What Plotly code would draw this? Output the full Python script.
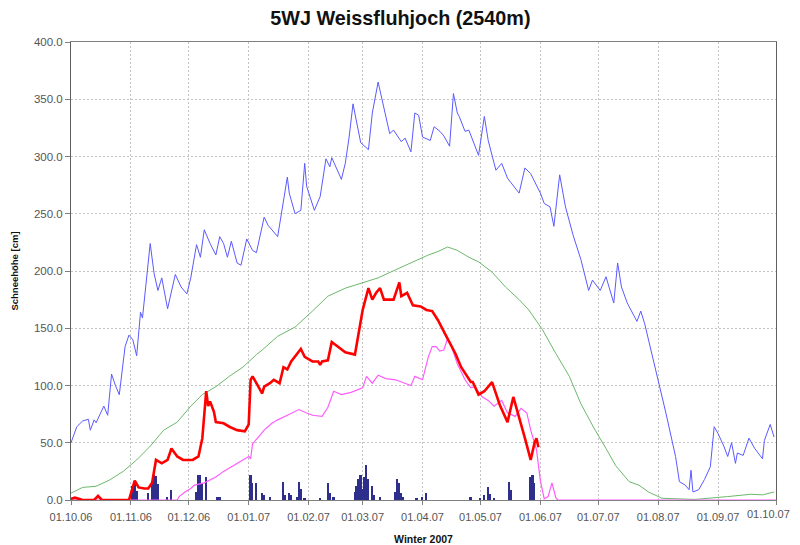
import pandas as pd
import plotly.graph_objects as go

START = "2006-10-01"

# Day offsets from 01.10.06 and snow depth values [cm]
hs_days = [0, 3, 6, 9, 10, 12, 13, 17, 19, 21, 23, 25, 28, 30, 32, 34, 36, 37, 41, 43, 45, 47, 50, 54, 57, 60,
           62, 65, 67, 69, 72, 75, 77, 79, 81, 83, 86, 88, 91, 94, 96, 100, 102, 107, 112, 113, 116, 119, 121,
           122, 126, 129, 132, 134, 135, 140, 142, 144, 146, 150, 154, 156, 159, 162, 165, 167, 171, 173, 176,
           178, 180, 182, 186, 188, 191, 193, 196, 198, 200, 201, 204, 206, 211, 214, 216, 220, 223, 226, 232,
           235, 238, 243, 245, 248, 250, 253, 256, 260, 264, 268, 270, 274, 277, 281, 283, 285, 288, 293, 295,
           297, 304, 308, 313, 315, 318, 320, 321, 322, 325, 328, 331, 333, 335, 338, 340, 342, 344, 345, 348,
           351, 354, 358, 359, 362, 364]
hs_vals = [50, 64, 69, 70.5, 61, 70, 67.5, 82, 74, 110, 100, 92, 134, 144, 140, 126, 164, 159, 224, 198, 183, 194,
           167, 197, 186, 180, 194, 223, 212, 236, 224, 214, 230, 224, 212, 226, 207, 205, 228, 218, 216, 247, 240,
           230, 282, 268, 250, 253, 294, 274, 253, 265, 298, 291, 299, 280, 294, 317, 346, 312, 306, 338, 365,
           341, 320, 323, 313, 316, 304, 338, 336, 317, 314, 326, 322, 318, 309, 355, 338, 335, 322, 323, 301,
           335, 314, 288, 294, 281, 268, 290, 285, 268, 259, 256, 239, 284, 256, 231, 210, 183, 192, 183, 195,
           172, 207, 186, 172, 156, 165, 154, 105, 76, 38, 16, 13, 9, 26, 7, 9, 18, 29, 64, 58, 47, 38, 50, 32,
           41, 39, 54, 45, 36, 52, 66, 55]

red_days = [0, 2, 4, 6, 12, 14, 16, 30, 33, 35, 38, 40, 42, 44, 47, 50, 52, 55, 58, 63, 66, 68, 70, 71, 72, 74,
            75, 79, 82, 86, 90, 92, 93, 94, 96, 99, 100, 103, 105, 108, 110, 112, 114, 117, 119, 121, 125, 128,
            129, 130, 133, 135, 138, 142, 147, 149, 150, 151, 154, 156, 158, 160, 162, 167, 170, 171, 174, 177,
            181, 184, 187, 190, 194, 199, 202, 207, 208, 211, 214, 218, 222, 226, 229, 232, 235, 238, 240, 241,
            242]
red_vals = [1, 2, 1, 0, 0, 3.5, 0, 0, 17, 11, 10, 10, 15, 35, 32, 35, 45, 38, 35, 35, 38, 54, 95, 82, 86, 77, 68,
            67, 64, 61, 60, 66, 105, 108, 102, 93, 99, 102, 105, 102, 116, 114, 121, 127, 132, 125, 121, 121, 118,
            121, 122, 138, 134, 129, 127, 148, 158, 166, 185, 175, 181, 185, 175, 175, 190, 178, 181, 170, 169,
            166, 165, 157, 144, 128, 116, 103, 103, 92, 95, 103, 83, 68, 90, 73, 54, 35, 50, 54, 46]

mag_days = [0, 55, 56, 59, 62, 64, 69, 72, 75, 79, 82, 86, 89, 92, 93, 94, 97, 100, 104, 107, 112, 118, 122, 125,
            130, 133, 136, 140, 145, 151, 153, 156, 159, 163, 168, 176, 178, 182, 185, 187, 189, 191, 193, 195,
            197, 200, 204, 207, 209, 213, 216, 219, 223, 226, 230, 233, 236, 238, 241, 243, 245, 247, 249, 251,
            252, 365]
mag_vals = [0, 0, 3, 7, 10, 13, 15, 17.5, 20, 25, 28, 32, 35, 38, 36, 49, 55, 61, 67, 70, 74, 79, 76, 74, 73, 81,
            95, 92, 94, 98, 108, 102, 109, 106, 105, 100, 108, 105, 125, 134, 134, 130, 131, 141, 134, 119, 105,
            98, 99, 90, 87, 82, 87, 76, 73, 80, 76, 61, 44, 17, 1, 3, 15, 2, 0, 0]

grn_days = [0, 6, 13, 20, 27, 34, 41, 48, 55, 62, 68, 75, 82, 89, 96, 99, 107, 116, 125, 133, 142, 150, 159, 168,
            176, 185, 190, 195, 200, 206, 211, 218, 225, 232, 237, 244, 251, 258, 264, 271, 277, 282, 289, 294,
            299, 306, 323, 332, 340, 352, 358, 364]
grn_vals = [6, 11, 12, 17.5, 25, 35, 47, 61, 68, 82, 92, 99, 108, 116, 127, 131, 143, 151, 165, 178, 185, 189,
            194, 201, 207, 214, 217, 221, 218, 212, 208, 199, 186, 175, 166, 149, 128, 108, 84, 62, 45, 30, 16,
            13, 7, 1.5, 0.5, 1.5, 3, 5, 4.5, 7]

hn_days = [32, 33, 34, 40, 42, 43, 44, 45, 50, 52, 65, 66, 67, 68, 70, 76, 77, 93, 94, 96, 99, 100, 103, 110, 111,
           113, 114, 117, 118, 119, 121, 129, 133, 134, 136, 147, 148, 149, 150, 151, 152, 153, 154, 156, 157,
           160, 168, 169, 170, 171, 172, 179, 182, 184, 207, 212, 214, 216, 217, 219, 227, 228, 238, 239, 240]
hn_vals = [12, 16, 8, 6, 15, 22, 21, 14, 3, 9, 7, 22, 22, 15, 20, 3, 3, 22, 15, 15, 6, 4, 3, 16, 4, 6, 4, 3, 16,
           10, 2, 2, 15, 6, 3, 7, 12, 18, 22, 10, 20, 31, 18, 12, 4, 3, 7, 18, 15, 6, 3, 2, 3, 6, 3, 2, 4, 11,
           5, 2, 16, 9, 20, 22, 15]

tick_dates = ["2006-10-01", "2006-11-01", "2006-12-01", "2007-01-01", "2007-02-01", "2007-03-01", "2007-04-01",
              "2007-05-01", "2007-06-01", "2007-07-01", "2007-08-01", "2007-09-01", "2007-10-01"]
tick_labels = ["01.10.06", "01.11.06", "01.12.06", "01.01.07", "01.02.07", "01.03.07", "01.04.07",
               "01.05.07", "01.06.07", "01.07.07", "01.08.07", "01.09.07", "01.10.07"]


def to_dates(days):
    return pd.Timestamp(START) + pd.to_timedelta(days, unit="D")


fig = go.Figure()
fig.add_trace(go.Bar(x=to_dates(hn_days), y=hn_vals, marker_color="#2e2e8c", marker_line_width=0,
                     width=86400000 * 0.9, showlegend=False))
fig.add_trace(go.Scatter(x=to_dates(grn_days), y=grn_vals, mode="lines",
                         line=dict(color="#6cb86c", width=1), showlegend=False))
fig.add_trace(go.Scatter(x=to_dates(hs_days), y=hs_vals, mode="lines",
                         line=dict(color="#5a5aff", width=1), showlegend=False))
fig.add_trace(go.Scatter(x=to_dates(mag_days), y=mag_vals, mode="lines",
                         line=dict(color="#ff5cff", width=1.2), showlegend=False))
fig.add_trace(go.Scatter(x=to_dates(red_days), y=red_vals, mode="lines",
                         line=dict(color="#ff0000", width=2.6), showlegend=False))

# The page body adds an 8px offset, so the figure is sized 792x537
fig.update_layout(
    width=792, height=537,
    margin=dict(l=63, r=24, t=34, b=45, autoexpand=False),
    paper_bgcolor="white", plot_bgcolor="white",
    font=dict(family="Liberation Sans, Arial", color="#333333"),
    title=dict(text="<b>5WJ Weissfluhjoch (2540m)</b>", x=0.4955, xanchor="center",
               y=0.981, yanchor="middle", font=dict(size=19.8, color="#111111")),
    bargap=0,
)
# last tick label drawn as an annotation so it is not clipped at the right edge
shown_labels = tick_labels[:-1] + [""]
fig.add_annotation(x=tick_dates[-1], xref="x", y=0, yref="paper", yanchor="top", xanchor="right",
                   yshift=-6, xshift=16, text=tick_labels[-1], showarrow=False,
                   font=dict(size=11, color="#555555", family="Liberation Sans, Arial"))
fig.update_xaxes(
    type="date", range=["2006-10-01", "2007-10-01"], automargin=False,
    tickvals=tick_dates, ticktext=shown_labels,
    tickfont=dict(size=11, color="#555555"),
    showgrid=True, gridcolor="#c4c4c4", griddash="2px,2px", gridwidth=1,
    showline=True, linecolor="#808080", linewidth=1, mirror=True,
    ticks="outside", ticklen=4, tickcolor="#808080", ticklabelstandoff=3,
    title=dict(text="<b>Winter 2007</b>", font=dict(size=10.5, color="#111111"), standoff=13),
    zeroline=False,
)
fig.update_yaxes(
    range=[0, 400], dtick=50, tickformat=".1f", automargin=False,
    tickfont=dict(size=11.5, color="#555555"),
    showgrid=True, gridcolor="#c4c4c4", griddash="2px,2px", gridwidth=1,
    showline=True, linecolor="#606060", linewidth=1, mirror=True,
    ticks="outside", ticklen=5, tickcolor="#808080",
    title=dict(text="<b>Schneehöhe [cm]</b>", font=dict(size=9.5, color="#111111"), standoff=13),
    zeroline=False,
)

fig.write_html("out.html")
